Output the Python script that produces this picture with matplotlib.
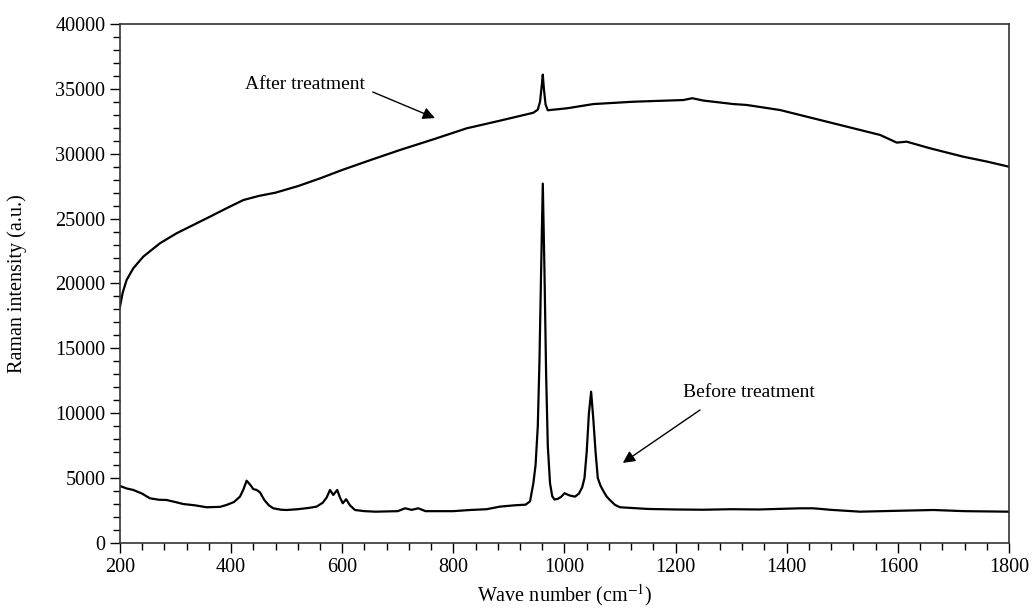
import matplotlib
matplotlib.use("Agg")
import matplotlib.pyplot as plt
from matplotlib.ticker import MultipleLocator

plt.rcParams['font.family'] = ['Liberation Serif', 'DejaVu Serif']
plt.rcParams['mathtext.fontset'] = 'stix'

# Before treatment spectrum (wave number, intensity)
before_x = [200, 212, 224, 240, 254, 270, 284, 300, 314, 335, 356, 380, 392, 405, 416, 422,
            428, 436, 440, 446, 452, 460, 468, 476, 490, 500, 520, 540, 554, 565, 572, 578,
            584, 591, 596, 601, 607, 614, 623, 640, 660, 700, 713, 725, 737, 750, 800, 830,
            860, 884, 910, 930, 938, 944, 948, 952, 955, 958, 961, 964, 967, 970, 974, 978,
            982, 988, 994, 1000, 1010, 1019, 1026, 1032, 1036, 1040, 1044, 1048, 1052, 1056,
            1060, 1065, 1070, 1076, 1082, 1091, 1100, 1150, 1200, 1250, 1300, 1350, 1424,
            1448, 1480, 1532, 1600, 1664, 1720, 1800]
before_y = [4390, 4200, 4085, 3800, 3440, 3330, 3310, 3150, 3000, 2900, 2750, 2780, 2930, 3150, 3570, 4100,
            4800, 4400, 4150, 4085, 3900, 3300, 2900, 2670, 2560, 2540, 2600, 2700, 2800, 3100, 3500, 4085,
            3700, 4085, 3500, 3060, 3370, 2900, 2540, 2450, 2410, 2450, 2670, 2550, 2670, 2450, 2450, 2540,
            2600, 2800, 2900, 2950, 3200, 4600, 6000, 9000, 14000, 21000, 27700, 21000, 13000, 7500, 4600, 3600,
            3350, 3400, 3550, 3830, 3650, 3570, 3800, 4300, 5000, 7000, 10000, 11660, 9500, 7000,
            5000, 4400, 4000, 3570, 3300, 2930, 2750, 2620, 2580, 2560, 2600, 2580, 2670,
            2670, 2550, 2410, 2480, 2540, 2450, 2410]

# After treatment spectrum
after_x = [200, 205, 212, 224, 242, 272, 302, 332, 362, 392, 422, 450, 480, 520, 560, 600,
           650, 704, 764, 824, 884, 944, 952, 956, 959, 961, 963, 966, 970, 974, 1004, 1052,
           1124, 1214, 1230, 1250, 1304, 1328, 1388, 1448, 1508, 1568, 1598, 1616, 1658,
           1718, 1760, 1800]
after_y = [18200, 19300, 20270, 21170, 22070, 23100, 23870, 24510, 25150, 25800, 26430, 26750, 27000, 27500, 28100, 28750,
           29500, 30290, 31110, 31960, 32550, 33160, 33400, 34000, 35200, 36100, 35000, 33800, 33350, 33370, 33500, 33830,
           34010, 34140, 34280, 34100, 33830, 33760, 33370, 32730, 32090, 31450, 30860, 30930, 30420,
           29770, 29400, 29000]

fig = plt.figure(figsize=(10.34, 6.08), dpi=100)
ax = fig.add_axes([0.116, 0.107, 0.8598, 0.8535])

ax.plot(before_x, before_y, color='black', lw=1.6)
ax.plot(after_x, after_y, color='black', lw=1.6)

ax.set_xlim(200, 1800)
ax.set_ylim(0, 40000)
ax.xaxis.set_major_locator(MultipleLocator(200))
ax.xaxis.set_minor_locator(MultipleLocator(40))
ax.yaxis.set_major_locator(MultipleLocator(5000))
ax.yaxis.set_minor_locator(MultipleLocator(1000))
ax.tick_params(which='major', direction='out', length=7, width=1, labelsize=14.5, colors='black')
ax.tick_params(which='minor', direction='out', length=5, width=1)
for s in ax.spines.values():
    s.set_linewidth(1.2)
    s.set_color('#333333')

ax.set_xlabel('Wave number (cm$^{-1}$)', fontsize=14.5, labelpad=4)
ax.set_ylabel('Raman intensity (a.u.)', fontsize=14.5, labelpad=20)

arrow = dict(arrowstyle='-|>', color='black', lw=1.0, mutation_scale=18, shrinkA=0, shrinkB=0)
ax.text(425, 35300, 'After treatment', fontsize=14, va='center', ha='left')
ax.annotate('', xy=(767, 32750), xytext=(655, 34760), arrowprops=arrow)
ax.text(1213, 11560, 'Before treatment', fontsize=14, va='center', ha='left')
ax.annotate('', xy=(1105, 6170), xytext=(1244, 10250), arrowprops=arrow)

fig.savefig('out.png', dpi=100)
